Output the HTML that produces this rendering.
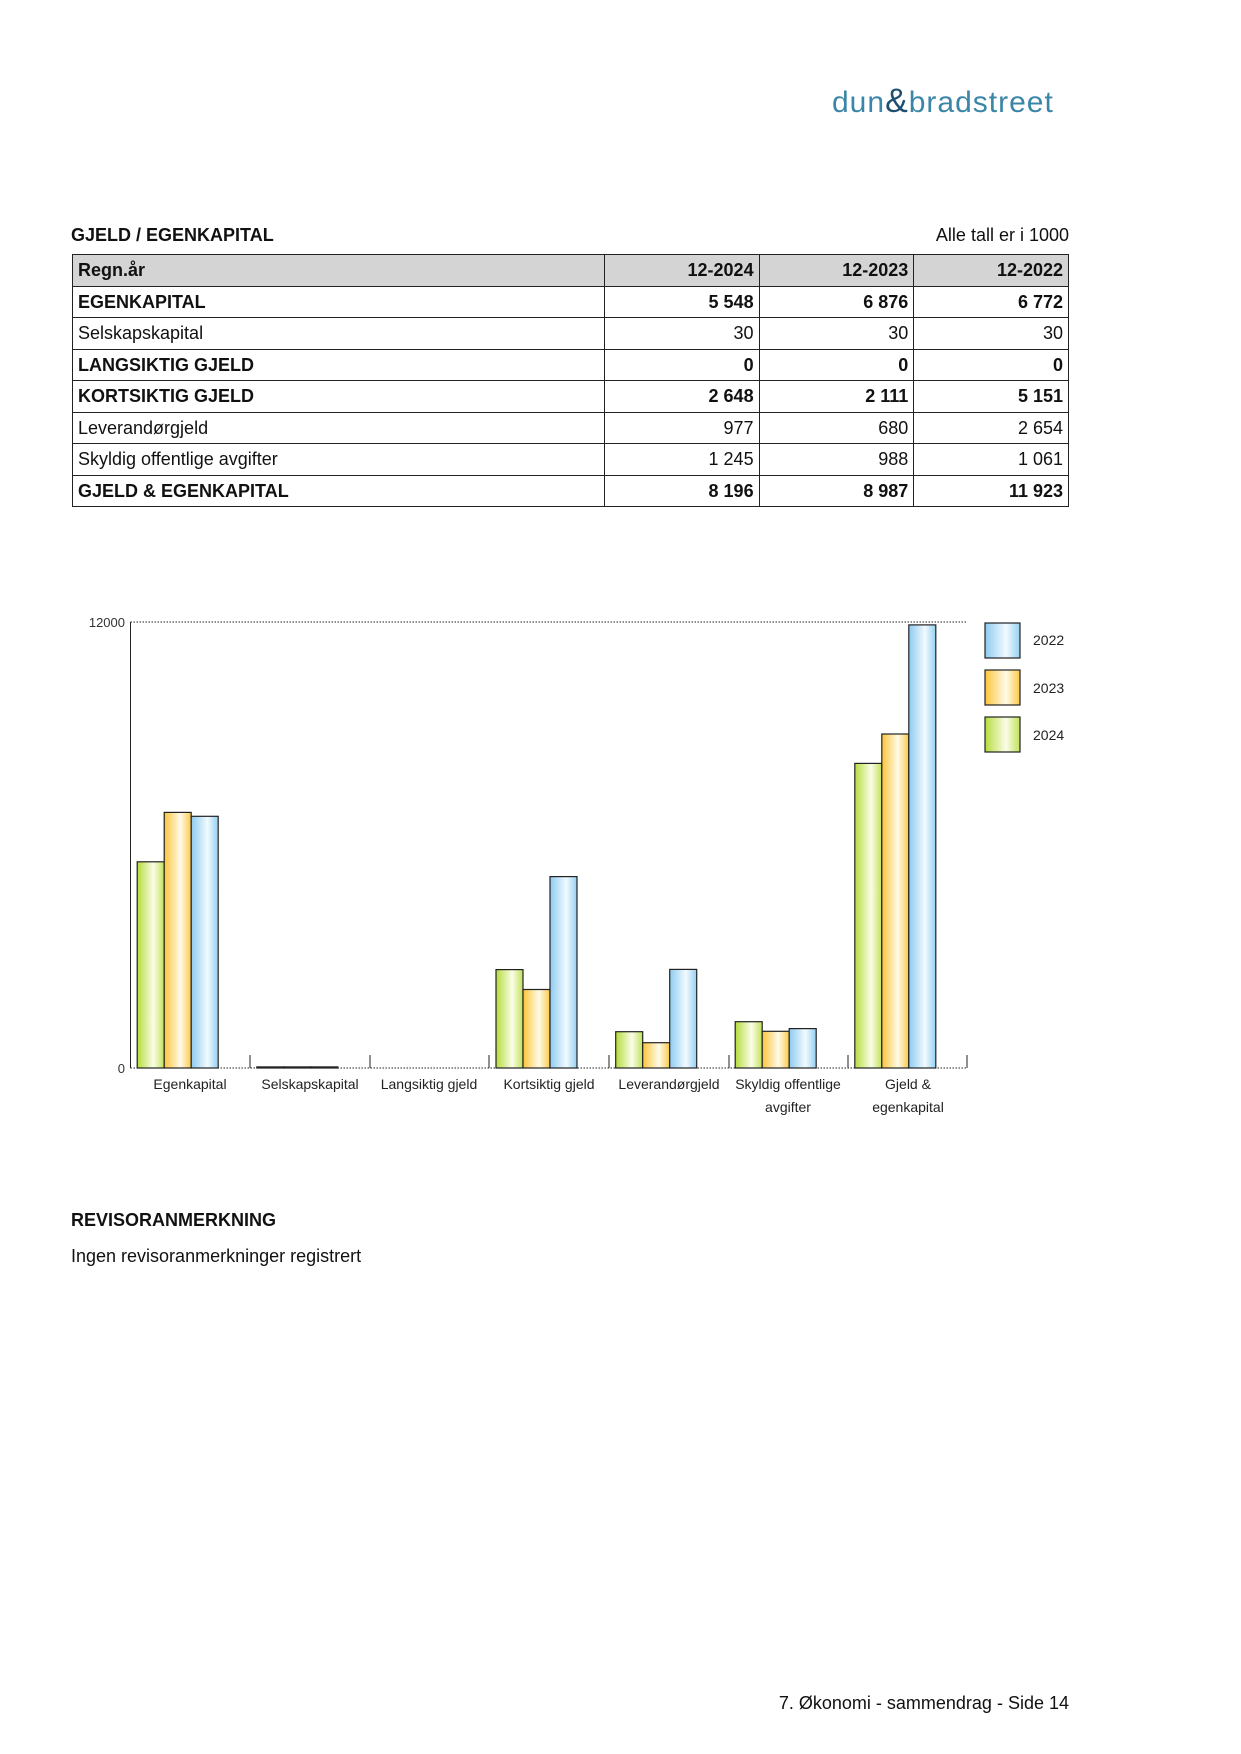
<!DOCTYPE html>
<html><head><meta charset="utf-8"><style>
body{margin:0;width:1241px;height:1754px;background:#fff;position:relative;font-family:"Liberation Sans",sans-serif;color:#111;}
.a{position:absolute;white-space:nowrap}
table{position:absolute;left:72px;top:254px;width:997px;border-collapse:collapse;font-size:18px}
td{border:1px solid #222;height:30.5px;padding:0 5px;line-height:30px}
td.n{text-align:right}
tr.b td{font-weight:bold}
tr.h td{background:#d4d4d4;font-weight:bold}
</style></head><body>
<div class="a" style="left:832px;top:82px;font-size:30px;color:#3b86a8;letter-spacing:1px">dun<span style="color:#1f4f6e;font-size:34px">&amp;</span>bradstreet</div>
<div class="a" style="left:71px;top:225px;font-size:18px;font-weight:bold">GJELD / EGENKAPITAL</div>
<div class="a" style="left:919px;top:225px;font-size:18px;width:150px;text-align:right">Alle tall er i 1000</div>
<table>
<colgroup><col style="width:533px"><col style="width:155px"><col style="width:155px"><col style="width:155px"></colgroup>
<tr class="h"><td>Regn.år</td><td class="n">12-2024</td><td class="n">12-2023</td><td class="n">12-2022</td></tr>
<tr class="b"><td>EGENKAPITAL</td><td class="n">5 548</td><td class="n">6 876</td><td class="n">6 772</td></tr>
<tr><td>Selskapskapital</td><td class="n">30</td><td class="n">30</td><td class="n">30</td></tr>
<tr class="b"><td>LANGSIKTIG GJELD</td><td class="n">0</td><td class="n">0</td><td class="n">0</td></tr>
<tr class="b"><td>KORTSIKTIG GJELD</td><td class="n">2 648</td><td class="n">2 111</td><td class="n">5 151</td></tr>
<tr><td>Leverandørgjeld</td><td class="n">977</td><td class="n">680</td><td class="n">2 654</td></tr>
<tr><td>Skyldig offentlige avgifter</td><td class="n">1 245</td><td class="n">988</td><td class="n">1 061</td></tr>
<tr class="b"><td>GJELD &amp; EGENKAPITAL</td><td class="n">8 196</td><td class="n">8 987</td><td class="n">11 923</td></tr>
</table>
<svg class="a" style="left:0;top:-5px" width="1241" height="1754" font-family="Liberation Sans, sans-serif">
<defs>
<linearGradient id="g"><stop offset="0" stop-color="#b5dc3c"/><stop offset=".6" stop-color="#fbfde8"/><stop offset="1" stop-color="#c2e25a"/></linearGradient>
<linearGradient id="o"><stop offset="0" stop-color="#fbc43a"/><stop offset=".6" stop-color="#fffbe8"/><stop offset="1" stop-color="#fcc94a"/></linearGradient>
<linearGradient id="b"><stop offset="0" stop-color="#8ccbf0"/><stop offset=".6" stop-color="#f2faff"/><stop offset="1" stop-color="#94d0f2"/></linearGradient>
</defs>
<line x1="130.5" y1="627" x2="967" y2="627" stroke="#222" stroke-dasharray="1.5,1.5"/>
<line x1="130.5" y1="1073" x2="967" y2="1073" stroke="#222" stroke-dasharray="1.5,1.5"/>
<line x1="130.5" y1="627" x2="130.5" y2="1073" stroke="#222"/>
<g stroke="#222"><line x1="250" y1="1060" x2="250" y2="1073"/><line x1="370" y1="1060" x2="370" y2="1073"/><line x1="489" y1="1060" x2="489" y2="1073"/><line x1="609" y1="1060" x2="609" y2="1073"/><line x1="729" y1="1060" x2="729" y2="1073"/><line x1="848" y1="1060" x2="848" y2="1073"/><line x1="967" y1="1060" x2="967" y2="1073"/></g>
<text x="125" y="632" font-size="13" text-anchor="end" fill="#333">12000</text>
<text x="125" y="1078" font-size="13" text-anchor="end" fill="#333">0</text>
<g stroke="#222" stroke-width="1.2">
<rect x="137.2" y="866.8" width="27" height="206.2" fill="url(#g)"/><rect x="164.2" y="817.4" width="27" height="255.6" fill="url(#o)"/><rect x="191.2" y="821.3" width="27" height="251.7" fill="url(#b)"/>
<rect x="256.8" y="1071.9" width="27" height="1.1" fill="url(#g)"/><rect x="283.8" y="1071.9" width="27" height="1.1" fill="url(#o)"/><rect x="310.8" y="1071.9" width="27" height="1.1" fill="url(#b)"/>
<rect x="496" y="974.6" width="27" height="98.4" fill="url(#g)"/><rect x="523" y="994.5" width="27" height="78.5" fill="url(#o)"/><rect x="550" y="881.6" width="27" height="191.4" fill="url(#b)"/>
<rect x="615.7" y="1036.7" width="27" height="36.3" fill="url(#g)"/><rect x="642.7" y="1047.7" width="27" height="25.3" fill="url(#o)"/><rect x="669.7" y="974.4" width="27" height="98.6" fill="url(#b)"/>
<rect x="735.2" y="1026.7" width="27" height="46.3" fill="url(#g)"/><rect x="762.2" y="1036.3" width="27" height="36.7" fill="url(#o)"/><rect x="789.2" y="1033.6" width="27" height="39.4" fill="url(#b)"/>
<rect x="854.8" y="768.4" width="27" height="304.6" fill="url(#g)"/><rect x="881.8" y="739" width="27" height="334" fill="url(#o)"/><rect x="908.8" y="629.9" width="27" height="443.1" fill="url(#b)"/>
<rect x="985" y="628" width="35" height="35" fill="url(#b)"/><rect x="985" y="675" width="35" height="35" fill="url(#o)"/><rect x="985" y="722" width="35" height="35" fill="url(#g)"/>
</g>
<g font-size="14" fill="#222" text-anchor="middle">
<text x="190" y="1094">Egenkapital</text><text x="310" y="1094">Selskapskapital</text><text x="429" y="1094">Langsiktig gjeld</text><text x="549" y="1094">Kortsiktig gjeld</text><text x="669" y="1094">Leverandørgjeld</text><text x="788" y="1094">Skyldig offentlige</text><text x="788" y="1117">avgifter</text><text x="908" y="1094">Gjeld &amp;</text><text x="908" y="1117">egenkapital</text>
</g>
<g font-size="14" fill="#222"><text x="1033" y="650">2022</text><text x="1033" y="698">2023</text><text x="1033" y="745">2024</text></g>
</svg>
<div class="a" style="left:71px;top:1210px;font-size:18px;font-weight:bold">REVISORANMERKNING</div>
<div class="a" style="left:71px;top:1246px;font-size:18px">Ingen revisoranmerkninger registrert</div>
<div class="a" style="left:700px;top:1693px;font-size:18px;width:369px;text-align:right">7. Økonomi - sammendrag - Side 14</div>
</body></html>
